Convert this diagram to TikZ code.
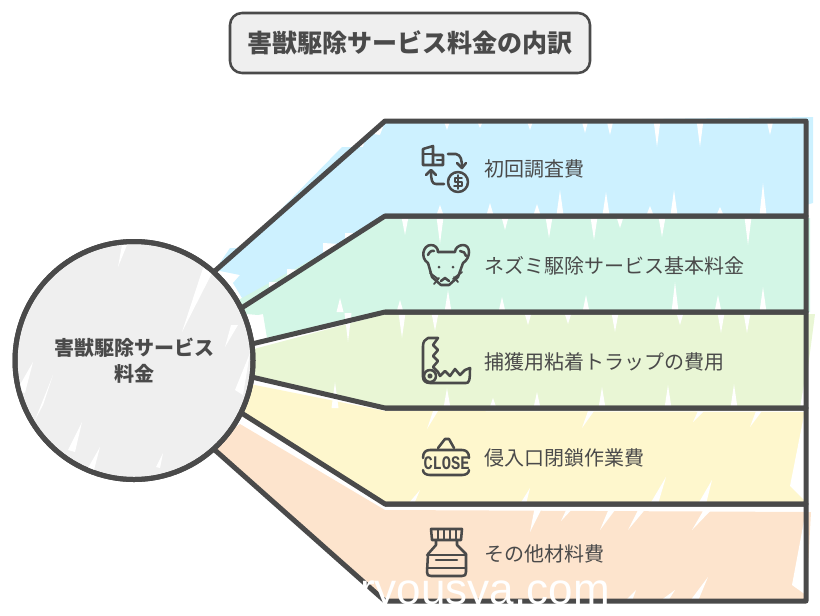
\documentclass[tikz,border=0pt]{standalone}
\usepackage{fontspec}
\setmainfont{Noto Sans CJK JP}
\newfontfamily\markfont{Liberation Sans}
\newfontfamily\signfont{Liberation Mono}
\usepackage{tikz}
\definecolor{ink}{HTML}{4A4A4A}
\definecolor{skyband}{HTML}{CDF1FF}
\definecolor{mintband}{HTML}{D3F6E6}
\definecolor{limeband}{HTML}{E9F6D5}
\definecolor{creamband}{HTML}{FEF7CD}
\definecolor{peachband}{HTML}{FDE4CD}
\definecolor{hubgray}{HTML}{EFEFEF}
\tikzstyle{titlebox} = [rectangle, rounded corners=9pt, minimum width=270pt, minimum height=45pt, text centered, draw=ink, line width=1.9pt, fill=hubgray, text=ink, font=\fontsize{18.75}{22}\selectfont\bfseries]
\tikzstyle{hub} = [circle, minimum size=178.5pt, inner sep=0pt, outer sep=0pt, draw=ink, line width=3.75pt, fill=hubgray]
\tikzstyle{hubtext} = [align=center, text=ink, font=\fontsize{15}{19.5}\selectfont\bfseries]
\tikzstyle{item} = [anchor=west, inner sep=0pt, text=ink, font=\fontsize{15}{18}\selectfont]
\tikzstyle{bandline} = [draw=ink, line width=3.75pt, line join=round]
\tikzstyle{icon} = [draw=ink, line width=1.9pt, line cap=round, line join=round]
\newcommand{\downspikes}[2]{\foreach \a/\b in {#2} \fill [white] (\a-3.5,#1) -- (\a+3.5,#1) -- (\a,\b) -- cycle;}
\begin{document}
\begin{tikzpicture}[x=0.75pt, y=-0.75pt]
		\useasboundingbox (0,0) rectangle (820,615);
		% fills
		\fill [skyband] (215,270) -- (230,248) -- (243,248) -- (342,147) -- (363,147) -- (367,133) -- (380,135) -- (385,122) -- (813,117) -- (813,203) -- (806,205) -- (806,216) -- (385,216) -- (245,303) -- (233,283) -- (240,275) -- cycle;
		\fill [mintband] (233,303) -- (385,219) -- (810,218) -- (810,312) -- (385,312) -- (267,338) -- (263,314) -- (258,315) -- (235,313) -- cycle;
		\fill [limeband] (250,350) -- (385,314) -- (815,314) -- (803,406) -- (385,407) -- (247,376) -- (247,375) -- (246,374) -- cycle;
		\fill [creamband] (250,384) -- (385,411) -- (806,412) -- (806,503) -- (385,503) -- (238,414) -- cycle;
		\fill [peachband] (240,424) -- (385,510) -- (811,512) -- (806,603) -- (385,601) -- (216,452) -- (216,440) -- cycle;
		% white gaps of the hand drawn fill
		\downspikes{120}{657/147, 700/147, 770/135, 585/133, 610/135, 530/130, 447/130, 480/128}
		\downspikes{215}{560/190, 606/192, 674/190, 763/183, 537/204, 650/206, 720/207, 440/205, 490/203}
		\downspikes{217}{549/238, 594/240, 662/237, 748/245, 505/230, 620/228, 440/244, 405/235}
		\downspikes{312}{675/282, 763/287, 718/295, 586/295, 502/297, 448/290, 400/300, 340/298}
		\downspikes{313}{615/332, 721/333, 747/333, 680/325, 568/324, 528/325, 435/331, 402/338, 348/342}
		\downspikes{408}{537/392, 602/387, 668/385, 734/384, 447/388, 493/398, 335/382}
		\fill [white] (269,282) -- (269,291) -- (282,282) -- cycle;
		\fill [white] (287,269) -- (287,280) -- (302,270) -- cycle;
		\fill [white] (323,243) -- (323,255) -- (340,244) -- cycle;
		\fill [white] (345,233) -- (345,241) -- (356,233) -- cycle;
		\fill [white] (800,408) -- (806,372) -- (806,408) -- cycle;
		\fill [white] (582,428) -- (588,411) -- (594,411) -- cycle;
		\fill [white] (750,427) -- (756,411) -- (762,411) -- cycle;
		\fill [white] (693,422) -- (698,411) -- (704,411) -- cycle;
		\fill [white] (427,429) -- (433,411) -- (438,411) -- cycle;
		\fill [white] (666,477) -- (658,504) -- (650,504) -- cycle;
		\fill [white] (712,480) -- (706,504) -- (698,504) -- cycle;
		\fill [white] (530,488) -- (526,504) -- (520,504) -- cycle;
		\fill [white] (420,490) -- (414,504) -- (408,504) -- cycle;
		\fill [white] (804,415) -- (790,486) -- (804,500) -- (807,500) -- (807,415) -- cycle;
		\fill [white] (530,532) -- (535,506) -- (543,506) -- cycle;
		\fill [white] (561,521) -- (568,506) -- (575,506) -- cycle;
		\fill [white] (600,530) -- (610,506) -- (618,506) -- cycle;
		\fill [white] (628,530) -- (640,506) -- (648,506) -- cycle;
		\fill [white] (692,530) -- (706,506) -- (715,506) -- cycle;
		\fill [white] (806,510) -- (792,585) -- (806,595) -- cycle;
		\fill [white] (708,577) -- (698,601) -- (690,601) -- cycle;
		\fill [white] (675,590) -- (668,601) -- (660,601) -- cycle;
		\fill [white] (636,590) -- (632,601) -- (625,601) -- cycle;
		% hub
		\node (hub) [hub] at (134,360.5) {};
		\fill [white] (203,268) -- (212,273) -- (182,332) -- cycle;
		\fill [white] (53,375) -- (35,420) -- (43,405) -- cycle;
		\fill [white] (82,422) -- (68,450) -- (75,452) -- cycle;
		\fill [white] (100,447) -- (88,468) -- (94,470) -- cycle;
		\fill [white] (163,453) -- (156,467) -- (160,468) -- cycle;
		\fill [white] (33,362) -- (17,390) -- (25,393) -- cycle;
		\fill [white] (238,325) -- (225,347) -- (231,325) -- cycle;
		\fill [white] (250,353) -- (235,390) -- (243,395) -- cycle;
		\fill [white] (127,245) -- (118,267) -- (122,245) -- cycle;
		\node (hubring) [hub, fill=none] at (134,360.5) {};
		\node (hubtext) [hubtext] at (134,361) {害獣駆除サービス\\料金};
		% outlines
		\draw [bandline] (hub.48) -- (385,121) -- (806,121) -- (806,216) -- (385,216) -- (hub.26);
		\draw [bandline] (385,216) -- (806,216) -- (806,312) -- (385,312) -- (hub.8);
		\draw [bandline] (385,312) -- (806,312) -- (806,408) -- (385,408) -- (hub.-8);
		\draw [bandline] (385,408) -- (806,408) -- (806,504) -- (385,504) -- (hub.-26);
		\draw [bandline] (385,504) -- (806,504) -- (806,601) -- (385,601) -- (hub.-48);
		% title and labels
		\node (title) [titlebox] at (410,43) {害獣駆除サービス料金の内訳};
		\node (lab1) [item] at (484,169) {初回調査費};
		\node (lab2) [item] at (484,266) {ネズミ駆除サービス基本料金};
		\node (lab3) [item] at (484,362) {捕獲用粘着トラップの費用};
		\node (lab4) [item] at (484,458) {侵入口閉鎖作業費};
		\node (lab5) [item] at (484,554) {その他材料費};
		% icon: invoice and coin
		\draw [icon] (433,165) -- (423,165) -- (423,149) -- (433,146) -- (433,165) -- (443,165) -- (443,155) -- (433,155);
		\draw [icon] (423,154) -- (433,154) (437,160) -- (443,160);
		\draw [icon] (448,154) -- (456,154) .. controls (461,155) and (462,160) .. (462,168);
		\draw [icon] (457,163) -- (462,168) -- (466,163);
		\draw [icon] (458,182) circle [radius=10];
		\draw [icon, line width=1.4pt] (462,178) -- (455,178) -- (455,182) -- (462,182) -- (462,186) -- (454,186) (458,175) -- (458,189);
		\draw [icon] (444,184) -- (436,184) .. controls (432,184) and (431,180) .. (431,171);
		\draw [icon] (426,175) -- (431,170) -- (436,175);
		% icon: mouse
		\draw [icon] (428,263) .. controls (420,258) and (423,245) .. (431,245) .. controls (435,245) and (438,248) .. (438,252);
		\draw [icon] (428,255) .. controls (429,252) and (432,250) .. (434,251);
		\draw [icon] (438,252) -- (455,252) .. controls (455,248) and (459,245) .. (463,245) .. controls (471,245) and (471,258) .. (463,263);
		\draw [icon] (460,251) .. controls (463,251) and (466,253) .. (466,256);
		\draw [icon] (428,263) -- (432,277) -- (441,285) -- (449,285) -- (458,277) -- (463,263);
		\fill [ink] (439,267) circle [radius=1.5];
		\fill [ink] (453,267) circle [radius=1.5];
		\draw [icon] (441,281) -- (445,278) -- (449,281);
		\draw [icon, line width=1.4pt] (430,273) -- (438,279) (434,284) -- (439,278) (462,272) -- (453,279) (458,282) -- (454,277);
		% icon: trap
		\draw [icon] (438,338) -- (428,338) .. controls (425,339) and (423,342) .. (423,346) -- (423,377) .. controls (423,381) and (426,383) .. (430,383) -- (466,383) .. controls (469,383) and (470,381) .. (470,368);
		\draw [icon] (438,338) -- (433,345) -- (438,350) -- (433,356) -- (438,361) -- (433,367) -- (438,372) -- (440,376) -- (445,371) -- (450,376) -- (455,369) -- (460,375) -- (465,370) -- (470,368);
		\draw [icon] (430,376) circle [radius=6];
		\draw [icon] (430,376) circle [radius=1.5];
		% icon: close sign
		\draw [icon] (438,448) -- (445,439) -- (449,439) -- (454,448);
		\draw [icon] (423,458) .. controls (423,452) and (426,450) .. (430,450) -- (462,450) .. controls (466,450) and (469,452) .. (469,458);
		\draw [icon] (423,470) .. controls (423,473) and (426,475) .. (430,475) -- (462,475) .. controls (466,475) and (469,473) .. (469,470);
		\node (signtext) [text=ink, inner sep=0pt, xscale=0.92, yscale=1.15, font=\fontsize{12.5}{14}\signfont\bfseries] at (446.5,463) {CLOSE};
		% icon: bottle
		\draw [icon] (431,529) -- (462,529) -- (461,540) -- (432,540) -- cycle;
		\draw [icon, line width=1.4pt] (438,530) -- (438,539) (444,530) -- (444,539) (450,530) -- (450,539) (456,530) -- (456,539);
		\draw [icon] (436,540) -- (436,545) -- (428,554) -- (427,572) .. controls (427,575) and (428,576) .. (431,576) -- (462,576) .. controls (465,576) and (466,575) .. (466,572) -- (466,554) -- (457,545) -- (457,540);
		\draw [icon] (427,555) -- (466,555) (427,568) -- (466,568);
		\draw [icon] (436,560) -- (457,560);
		% site mark
		\node (sitemark) [text=white, inner sep=0pt, anchor=base, font=\fontsize{33}{36}\markfont] at (485,604) {ryousya.com};
\end{tikzpicture}
\end{document}
